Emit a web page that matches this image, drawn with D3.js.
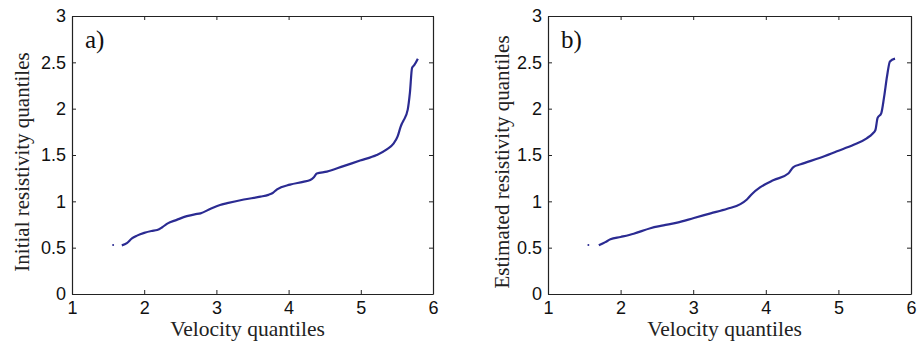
<!DOCTYPE html>
<html>
<head>
<meta charset="utf-8">
<script src="https://cdn.jsdelivr.net/npm/d3@7"></script>
<style>
body { margin: 0; background: #fff; }
</style>
</head>
<body>
<div id="chart-area"></div>
<script>
// quantile pairs
var velA = [1.69, 1.76, 1.83, 1.9, 2.0, 2.1, 2.18, 2.25, 2.32, 2.45, 2.59, 2.7, 2.78, 2.92, 3.05, 3.15, 3.38, 3.61, 3.72, 3.78, 3.84, 4.02, 4.2, 4.3, 4.35, 4.39, 4.53, 4.76, 4.99, 5.22, 5.36, 5.45, 5.51, 5.55, 5.57, 5.59, 5.65, 5.68, 5.71, 5.74, 5.79];
var resA = [0.525, 0.55, 0.6, 0.63, 0.66, 0.68, 0.69, 0.72, 0.76, 0.80, 0.84, 0.86, 0.87, 0.92, 0.96, 0.98, 1.02, 1.05, 1.07, 1.09, 1.13, 1.18, 1.21, 1.23, 1.26, 1.30, 1.32, 1.38, 1.44, 1.50, 1.56, 1.62, 1.70, 1.80, 1.84, 1.87, 1.99, 2.17, 2.44, 2.47, 2.54];
var velB = [1.70, 1.79, 1.86, 2.0, 2.18, 2.41, 2.59, 2.78, 3.01, 3.24, 3.47, 3.65, 3.74, 3.81, 3.92, 4.11, 4.31, 4.38, 4.48, 4.75, 4.98, 5.21, 5.39, 5.47, 5.51, 5.54, 5.59, 5.63, 5.67, 5.71, 5.78];
var resB = [0.525, 0.56, 0.59, 0.615, 0.65, 0.71, 0.74, 0.77, 0.82, 0.87, 0.92, 0.97, 1.02, 1.08, 1.15, 1.23, 1.30, 1.37, 1.40, 1.47, 1.54, 1.61, 1.68, 1.73, 1.77, 1.90, 1.95, 2.13, 2.35, 2.51, 2.54];
var outlierA = [1.57, 0.53];
var outlierB = [1.556, 0.53];

var xTicks = [1, 2, 3, 4, 5, 6];
var yTicks = [0, 0.5, 1, 1.5, 2, 2.5, 3];

var panels = [
	{ left: 72, right: 433, tag: "a)", ylabel: "Initial resistivity quantiles", labelX: 22, vel: velA, res: resA, dot: outlierA },
	{ left: 548, right: 911, tag: "b)", ylabel: "Estimated resistivity quantiles", labelX: 502, vel: velB, res: resB, dot: outlierB }
];
var plotTop = 16, plotBottom = 294;

var svg = d3.select("#chart-area").append("svg")
	.attr("width", 917)
	.attr("height", 347);

panels.forEach(function(p) {
	var x = d3.scaleLinear().domain([1, 6]).range([p.left, p.right]);
	var y = d3.scaleLinear().domain([0, 3]).range([plotBottom, plotTop]);

	var g = svg.append("g");

	// MATLAB style axes: inward ticks on all four sides
	g.append("g")
		.attr("transform", "translate(0," + plotBottom + ")")
		.call(d3.axisBottom(x).tickValues(xTicks).tickSizeInner(-4).tickSizeOuter(0).tickPadding(7).tickFormat(d3.format("d")));
	g.append("g")
		.attr("transform", "translate(0," + plotTop + ")")
		.call(d3.axisTop(x).tickValues(xTicks).tickSizeInner(-4).tickSizeOuter(0).tickFormat(""));
	g.append("g")
		.attr("transform", "translate(" + p.left + ",0)")
		.call(d3.axisLeft(y).tickValues(yTicks).tickSizeInner(-4).tickSizeOuter(0).tickPadding(6).tickFormat(d3.format("")));
	g.append("g")
		.attr("transform", "translate(" + p.right + ",0)")
		.call(d3.axisRight(y).tickValues(yTicks).tickSizeInner(-4).tickSizeOuter(0).tickFormat(""));

	g.selectAll(".domain").attr("stroke", "#222").attr("stroke-width", 1.2);
	g.selectAll(".tick line").attr("stroke", "#222");
	g.selectAll(".tick text")
		.attr("font-family", "Liberation Sans, Arial, sans-serif")
		.attr("font-size", "18px")
		.attr("fill", "#111");

	var line = d3.line()
		.curve(d3.curveMonotoneX)
		.x(function(d) { return x(d[0]); })
		.y(function(d) { return y(d[1]); });

	g.append("path")
		.datum(d3.zip(p.vel, p.res))
		.attr("d", line)
		.attr("fill", "none")
		.attr("stroke", "#2b2b92")
		.attr("stroke-width", 2.2)
		.attr("stroke-linejoin", "round");

	g.append("circle")
		.attr("cx", x(p.dot[0]))
		.attr("cy", y(p.dot[1]))
		.attr("r", 1)
		.attr("fill", "#2b2b92");

	g.append("text")
		.attr("x", x(1.18))
		.attr("y", 48)
		.attr("font-family", "Liberation Serif, Times New Roman, serif")
		.attr("font-size", "25px")
		.attr("fill", "#111")
		.text(p.tag);

	g.append("text")
		.attr("x", (p.left + p.right) / 2 - 5)
		.attr("y", 336)
		.attr("text-anchor", "middle")
		.attr("font-family", "Liberation Serif, Times New Roman, serif")
		.attr("font-size", "21.5px")
		.attr("fill", "#222")
		.text("Velocity quantiles");

	g.append("text")
		.attr("transform", "translate(" + p.labelX + "," + ((plotTop + plotBottom) / 2 + 7) + ") rotate(-90)")
		.attr("text-anchor", "middle")
		.attr("dy", "0.35em")
		.attr("font-family", "Liberation Serif, Times New Roman, serif")
		.attr("font-size", "21px")
		.attr("fill", "#222")
		.text(p.ylabel);
});
</script>
</body>
</html>
